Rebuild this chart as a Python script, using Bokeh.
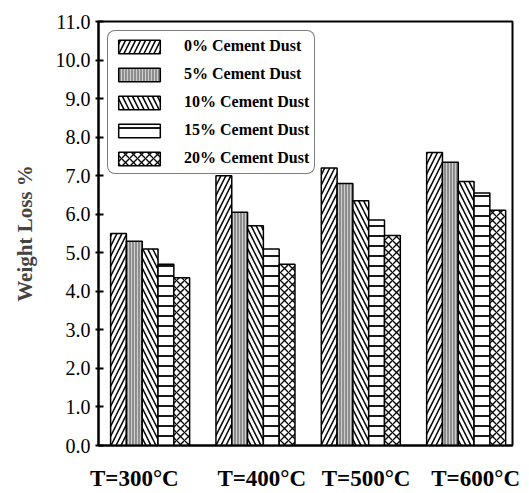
from bokeh.plotting import figure
from bokeh.models import ColumnDataSource, Range1d, FixedTicker, PrintfTickFormatter, Legend
from bokeh.transform import dodge
from bokeh.embed import file_html
from bokeh.resources import INLINE

# Weight loss (%) of specimens after heating, by cement-dust content
temperatures = ["T=300°C", "T=400°C", "T=500°C", "T=600°C"]
dust_0 = [5.5, 7.0, 7.2, 7.6]
dust_5 = [5.3, 6.05, 6.8, 7.35]
dust_10 = [5.1, 5.7, 6.35, 6.85]
dust_15 = [4.7, 5.1, 5.85, 6.55]
dust_20 = [4.35, 4.7, 5.45, 6.1]
series_labels = ["0% Cement Dust", "5% Cement Dust", "10% Cement Dust",
                 "15% Cement Dust", "20% Cement Dust"]
y_ticks = [0, 1, 2, 3, 4, 5, 6, 7, 8, 9, 10, 11]

src = ColumnDataSource(dict(
    x=list(range(len(temperatures))),
    d0=dust_0, d5=dust_5, d10=dust_10, d15=dust_15, d20=dust_20,
))

SERIF = "Liberation Serif"

p = figure(width=529, height=493, output_backend="svg", toolbar_location=None,
           x_range=Range1d(-0.49, 3.44), y_range=Range1d(0, 11))
p.min_border_left = 98
p.min_border_right = 17
p.min_border_top = 21
p.min_border_bottom = 45
p.grid.visible = False
p.outline_line_color = "black"
p.outline_line_width = 2
p.background_fill_color = "white"
p.border_fill_color = "white"

bw = 0.15
styles = [
    dict(col="d0", fill_color="white", hatch_pattern="/", hatch_color="black",
         hatch_scale=10, hatch_weight=1.5),
    dict(col="d5", fill_color="#8e8e8e", hatch_pattern="|", hatch_color="#cfcfcf",
         hatch_scale=3, hatch_weight=1),
    dict(col="d10", fill_color="white", hatch_pattern="\\", hatch_color="black",
         hatch_scale=10, hatch_weight=1.5),
    dict(col="d15", fill_color="white", hatch_pattern="-", hatch_color="black",
         hatch_scale=10, hatch_weight=1.8),
    dict(col="d20", fill_color="white", hatch_pattern="x", hatch_color="black",
         hatch_scale=8, hatch_weight=1.3),
]
offsets = [-2 * bw, -bw, 0, bw, 2 * bw]

items = []
for st, off, lab in zip(styles, offsets, series_labels):
    r = p.vbar(x=dodge("x", off, range=p.x_range), top=st["col"], width=bw, bottom=0,
               source=src, fill_color=st["fill_color"], line_color="black", line_width=1.5,
               hatch_pattern=st["hatch_pattern"], hatch_color=st["hatch_color"],
               hatch_scale=st["hatch_scale"], hatch_weight=st["hatch_weight"])
    items.append((lab, [r]))

legend = Legend(items=items, location="top_left")
legend.margin = 9
legend.padding = 5
legend.spacing = 8
legend.glyph_width = 52
legend.glyph_height = 17
legend.label_height = 20
legend.label_standoff = 19
legend.label_text_font = SERIF
legend.label_text_font_style = "bold"
legend.label_text_font_size = "16px"
legend.label_text_color = "black"
legend.border_line_color = "black"
legend.border_line_width = 1.5
legend.background_fill_alpha = 1
if "border_radius" in Legend.properties():
    legend.border_radius = 8
p.add_layout(legend)

# y axis
ya = p.yaxis[0]
ya.ticker = FixedTicker(ticks=y_ticks)
ya.formatter = PrintfTickFormatter(format="%.1f")
ya.minor_tick_line_color = None
ya.major_tick_in = 5
ya.major_tick_out = 3
ya.major_tick_line_width = 2
ya.axis_line_width = 2
ya.major_label_text_font = SERIF
ya.major_label_text_font_size = "20px"
ya.major_label_text_color = "black"
ya.major_label_standoff = 5
ya.axis_label = "Weight Loss %"
ya.axis_label_text_font = SERIF
ya.axis_label_text_font_style = "bold"
ya.axis_label_text_font_size = "21px"
ya.axis_label_standoff = 16

# x axis: category labels sit slightly off the group centres
xa = p.xaxis[0]
label_pos = [-0.15, 1.06, 2.05, 3.09]
xa.ticker = FixedTicker(ticks=label_pos)
xa.major_label_overrides = {pos: t for pos, t in zip(label_pos, temperatures)}
xa.major_tick_line_color = None
xa.minor_tick_line_color = None
xa.axis_line_width = 2
xa.major_label_text_font = SERIF
xa.major_label_text_font_style = "bold"
xa.major_label_text_font_size = "23px"
xa.major_label_text_color = "black"
xa.major_label_standoff = 14

open("out.html", "w").write(file_html(p, INLINE))
